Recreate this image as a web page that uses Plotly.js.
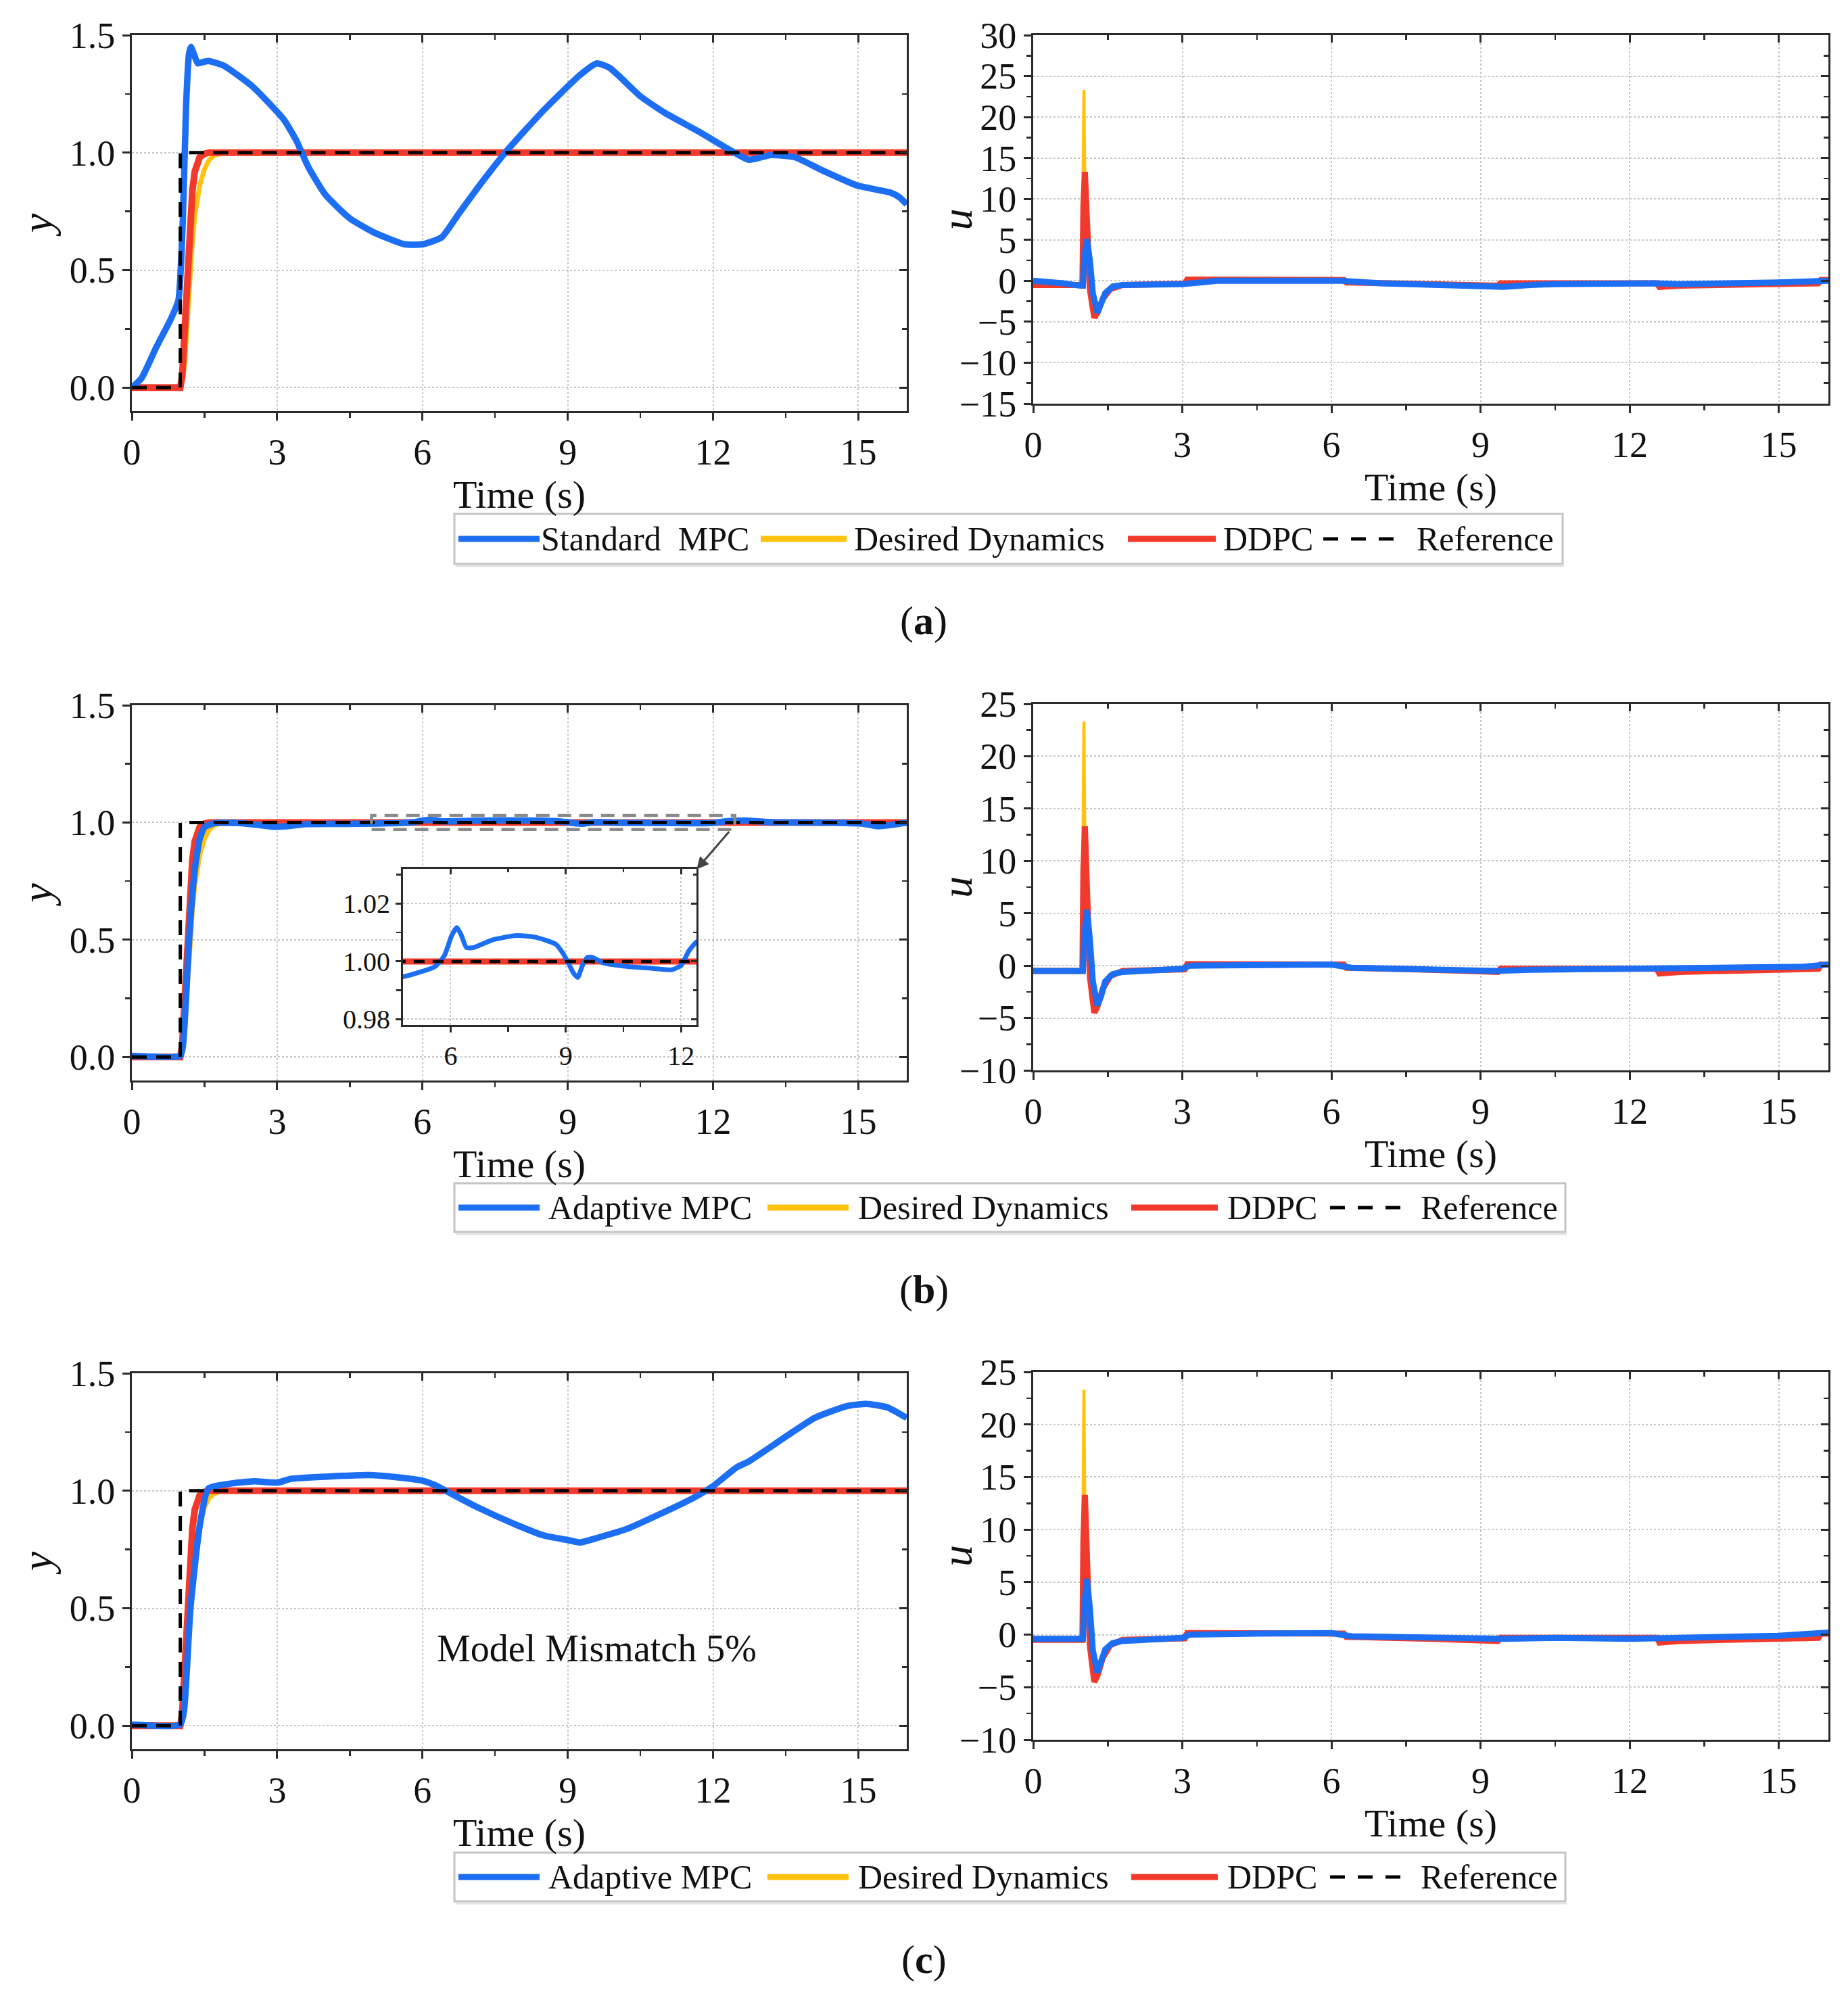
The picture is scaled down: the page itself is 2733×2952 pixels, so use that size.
<!DOCTYPE html>
<html>
<head>
<meta charset="utf-8">
<script src="https://cdn.plot.ly/plotly-3.0.1.min.js"></script>
<style>html,body{margin:0;padding:0;background:#fff;}#chart{width:2733px;height:2952px;}</style>
</head>
<body>
<div id="chart"></div>
<script>
// ---------------- data ----------------
const refT = [0, 1, 1, 16];
const refY = [0, 0, 1, 1];

const desT = [0, 1.0, 1.05, 1.1, 1.15, 1.2, 1.25, 1.3, 1.4, 1.5, 1.6, 1.7, 1.8, 1.9, 16];
const desY = [0, 0, 0.03, 0.12, 0.3, 0.48, 0.62, 0.73, 0.86, 0.93, 0.97, 0.988, 0.996, 1.0, 1.0];

const ddpcT = [0, 1.0, 1.04, 1.08, 1.12, 1.16, 1.2, 1.25, 1.3, 1.35, 1.4, 1.5, 1.6, 16];
const ddpcY = [0, 0, 0.05, 0.2, 0.4, 0.58, 0.72, 0.84, 0.92, 0.96, 0.98, 0.995, 1.0, 1.0];

const mpcT = [0, 0.2, 0.5, 0.8, 0.96, 1.05, 1.12, 1.18, 1.22, 1.28, 1.36, 1.46, 1.58, 1.9, 2.5, 3.14, 3.4, 3.64, 4.0, 4.5, 5.0, 5.63, 6.0, 6.4, 6.75, 7.25, 7.75, 8.5, 9.25, 9.6, 9.87, 10.5, 11.0, 11.7, 12.36, 12.74, 13.2, 13.7, 14.2, 14.98, 15.66, 15.85, 16];
const mpcY = [0, 0.04, 0.17, 0.29, 0.37, 0.7, 1.2, 1.42, 1.45, 1.42, 1.38, 1.385, 1.39, 1.37, 1.28, 1.14, 1.05, 0.94, 0.82, 0.72, 0.66, 0.61, 0.61, 0.64, 0.74, 0.88, 1.01, 1.18, 1.33, 1.38, 1.36, 1.24, 1.17, 1.09, 1.01, 0.97, 0.99, 0.98, 0.93, 0.86, 0.83, 0.81, 0.78];

const adaBT = [0, 1.0, 1.05, 1.1, 1.15, 1.2, 1.3, 1.4, 1.5, 1.7, 2.2, 2.6, 2.9, 3.2, 3.6, 4.2, 4.76, 5.59, 5.84, 6.03, 6.16, 6.28, 6.41, 6.6, 7.1, 7.73, 8.23, 8.73, 8.92, 9.05, 9.2, 9.31, 9.42, 9.55, 9.67, 9.99, 10.62, 11.25, 11.75, 12.0, 12.2, 12.4, 12.7, 13.2, 14.5, 15.1, 15.4, 15.7, 16];
const adaBY = [0.005, 0.005, 0.04, 0.18, 0.38, 0.56, 0.8, 0.93, 0.98, 0.997, 0.998, 0.99, 0.982, 0.984, 0.993, 0.994, 0.9947, 0.9982, 1.0021, 1.009, 1.0117, 1.009, 1.0048, 1.0048, 1.0075, 1.009, 1.0083, 1.006, 1.0029, 0.9998, 0.9959, 0.9945, 0.9982, 1.0013, 1.0015, 0.9994, 0.9982, 0.9976, 0.9971, 0.9986, 1.0036, 1.0067, 1.008, 1.001, 0.999, 0.995, 0.984, 0.99, 1.0];

const adaCT = [0, 1.0, 1.08, 1.21, 1.4, 1.58, 2.02, 2.52, 3.02, 3.27, 4.01, 4.89, 5.5, 6.0, 6.26, 6.57, 7.13, 7.88, 8.5, 9.0, 9.25, 9.62, 10.25, 11.0, 11.6, 12.0, 12.49, 12.74, 13.5, 14.1, 14.76, 15.17, 15.6, 16];
const adaCY = [0.005, 0.005, 0.07, 0.5, 0.85, 1.01, 1.03, 1.04, 1.035, 1.05, 1.06, 1.067, 1.057, 1.043, 1.024, 0.99, 0.93, 0.86, 0.81, 0.79, 0.78, 0.80, 0.84, 0.91, 0.97, 1.02, 1.10, 1.125, 1.23, 1.31, 1.36, 1.37, 1.355, 1.31];

// control input u
const desUT = [0, 0.99, 1.005, 1.02, 1.035, 1.06, 1.1, 1.14, 1.19, 1.23, 1.3, 1.4, 1.55, 1.8, 3.05, 3.1, 6.25, 6.3, 8.0, 9.35, 9.4, 12.55, 12.6, 13.0, 15.8, 15.85, 16];
const desU  = [-0.5, -0.5, 14, 23.3, 14, 7, 2, -1, -3, -4.5, -3.8, -2.2, -1.0, -0.5, -0.35, 0.15, 0.1, -0.2, -0.4, -0.6, -0.3, -0.3, -0.75, -0.6, -0.3, 0.1, 0.1];

const ddpcUT = [0, 0.99, 1.01, 1.04, 1.07, 1.1, 1.14, 1.19, 1.23, 1.3, 1.4, 1.55, 1.8, 3.05, 3.1, 6.25, 6.3, 8.0, 9.35, 9.4, 12.55, 12.6, 13.0, 15.8, 15.85, 16];
const ddpcU  = [-0.5, -0.5, 9, 13.3, 9, 3, -1, -3, -4.5, -3.8, -2.2, -1.0, -0.5, -0.35, 0.15, 0.1, -0.2, -0.4, -0.6, -0.3, -0.3, -0.75, -0.6, -0.3, 0.1, 0.1];

const mpcUT = [0, 0.3, 0.6, 0.95, 1.0, 1.03, 1.08, 1.14, 1.2, 1.29, 1.36, 1.45, 1.6, 1.8, 2.5, 3.0, 3.7, 5.0, 6.2, 7.0, 8.5, 9.47, 10.0, 10.5, 12.5, 13.0, 15.0, 16];
const mpcU  = [0, -0.1, -0.3, -0.6, -0.6, 3.0, 5.1, 2.5, -1.5, -3.9, -3.0, -1.5, -0.7, -0.5, -0.45, -0.4, 0, 0.05, 0, -0.3, -0.5, -0.74, -0.5, -0.4, -0.3, -0.4, -0.2, 0];

const adaBUT = [0, 0.95, 1.0, 1.03, 1.08, 1.14, 1.2, 1.29, 1.36, 1.45, 1.6, 1.8, 3.0, 3.15, 4.5, 6.0, 6.4, 8.5, 9.3, 10.0, 12.5, 14.0, 15.5, 16];
const adaBU  = [-0.5, -0.5, -0.5, 3.0, 5.3, 2.5, -1.5, -3.8, -3.0, -1.5, -0.8, -0.6, -0.3, 0, 0.1, 0.1, -0.2, -0.4, -0.5, -0.4, -0.3, -0.3, -0.1, 0.1];

const adaCUT = [0, 0.95, 1.0, 1.03, 1.08, 1.14, 1.2, 1.29, 1.36, 1.45, 1.6, 1.8, 3.0, 3.15, 4.5, 6.0, 6.4, 8.0, 9.5, 10.5, 12.0, 13.0, 15.0, 16];
const adaCU  = [-0.4, -0.4, -0.4, 3.0, 5.3, 2.5, -1.5, -3.6, -2.8, -1.4, -0.8, -0.6, -0.3, 0, 0.1, 0.15, -0.15, -0.3, -0.4, -0.3, -0.4, -0.3, -0.1, 0.2];

const xTicks = [0, 3, 6, 9, 12, 15];
const xMinor = [1.5, 4.5, 7.5, 10.5, 13.5];
const yTicks = [0, 0.5, 1.0, 1.5];
const yTickText = ['0.0', '0.5', '1.0', '1.5'];
const yMinor = [0.25, 0.75, 1.25];
const insetTicksX = [6, 9, 12];
const insetMinorX = [7.5, 10.5];
const insetTicksY = [0.98, 1.00, 1.02];
const insetTickTextY = ['0.98', '1.00', '1.02'];
const insetMinorY = [0.99, 1.01, 1.03];

const legendNames = {
  a: ['Standard  MPC', 'Desired Dynamics', 'DDPC', 'Reference'],
  b: ['Adaptive MPC', 'Desired Dynamics', 'DDPC', 'Reference'],
  c: ['Adaptive MPC', 'Desired Dynamics', 'DDPC', 'Reference']
};
const captions = ['a', 'b', 'c'];
const annotationText = 'Model Mismatch 5%';

// ---------------- style ----------------
const BLUE = '#1c6ef2', YEL = '#ffc20e', RED = '#f23a2c', BLK = '#000000';
const FONT = 'Liberation Serif, Times New Roman, serif';
const W = 2733, H = 2952;
const fx = p => p / W, fy = p => 1 - p / H;
const AX = '#2b2b2b';

const traces = [];
function addY(xa, ya, blueT, blueY, nm) {
  traces.push({x: desT, y: desY, xaxis: xa, yaxis: ya, mode: 'lines', name: nm[1], line: {color: YEL, width: 7}, showlegend: false});
  traces.push({x: ddpcT, y: ddpcY, xaxis: xa, yaxis: ya, mode: 'lines', name: nm[2], line: {color: RED, width: 10}, showlegend: false});
  traces.push({x: blueT, y: blueY, xaxis: xa, yaxis: ya, mode: 'lines', name: nm[0], line: {color: BLUE, width: 9.5, shape: 'spline', smoothing: 0.5}, showlegend: false});
  traces.push({x: refT, y: refY, xaxis: xa, yaxis: ya, mode: 'lines', name: nm[3], line: {color: BLK, width: 5, dash: '22px,14px'}, showlegend: false});
}
function addU(xa, ya, blueT, blueU, nm) {
  traces.push({x: desUT, y: desU, xaxis: xa, yaxis: ya, mode: 'lines', name: nm[1], line: {color: YEL, width: 4.5}, showlegend: false});
  traces.push({x: ddpcUT, y: ddpcU, xaxis: xa, yaxis: ya, mode: 'lines', name: nm[2], line: {color: RED, width: 9}, showlegend: false});
  traces.push({x: blueT, y: blueU, xaxis: xa, yaxis: ya, mode: 'lines', name: nm[0], line: {color: BLUE, width: 9}, showlegend: false});
}

addY('x', 'y', mpcT, mpcY, legendNames.a);
addU('x2', 'y2', mpcUT, mpcU, legendNames.a);
addY('x3', 'y3', adaBT, adaBY, legendNames.b);
addU('x4', 'y4', adaBUT, adaBU, legendNames.b);
addY('x5', 'y5', adaCT, adaCY, legendNames.c);
addU('x6', 'y6', adaCUT, adaCU, legendNames.c);
// inset (b)
traces.push({x: desT, y: desY, xaxis: 'x7', yaxis: 'y7', mode: 'lines', line: {color: YEL, width: 6}, showlegend: false});
traces.push({x: ddpcT, y: ddpcY, xaxis: 'x7', yaxis: 'y7', mode: 'lines', line: {color: RED, width: 9}, showlegend: false});
traces.push({x: adaBT, y: adaBY, xaxis: 'x7', yaxis: 'y7', mode: 'lines', line: {color: BLUE, width: 7, shape: 'spline', smoothing: 0.5}, showlegend: false});
traces.push({x: refT, y: refY, xaxis: 'x7', yaxis: 'y7', mode: 'lines', line: {color: BLK, width: 4.5, dash: '16px,12px'}, showlegend: false});

const titleFont = {family: FONT, size: 58, color: '#111'};

function baseAxis(range, tickvals, ticktext, minorvals, fontSize) {
  const a = {
    range: range, tickvals: tickvals,
    showline: true, mirror: true, linecolor: AX, linewidth: 3,
    ticks: 'outside', ticklen: 11, tickwidth: 3, tickcolor: AX,
    minor: {tickvals: minorvals, ticks: 'outside', ticklen: 7, tickwidth: 2.5, tickcolor: AX, showgrid: false},
    showgrid: true, gridcolor: '#c6c6c6', gridwidth: 2, griddash: 'dot',
    zeroline: false, tickfont: {family: FONT, size: fontSize, color: '#111'}
  };
  if (ticktext) a.ticktext = ticktext;
  return a;
}
function xax(domain, anchor) {
  return Object.assign(baseAxis([0, 16], xTicks, xTicks.map(String), xMinor, 54), {
    domain: domain, anchor: anchor,
    title: {text: 'Time (s)', font: titleFont, standoff: 6}
  });
}
function yaxY(domain, anchor) {
  return Object.assign(baseAxis([-0.1, 1.5], yTicks, yTickText, yMinor, 54), {
    domain: domain, anchor: anchor,
    title: {text: '<i>y</i>', font: {family: FONT, size: 64, color: '#111'}, standoff: 6}
  });
}
function yaxU(domain, anchor, lo, hi) {
  const vals = [], minors = [];
  for (let v = lo; v <= hi; v += 5) vals.push(v);
  for (let v = lo + 2.5; v < hi; v += 5) minors.push(v);
  return Object.assign(baseAxis([lo, hi], vals, null, minors, 54), {
    domain: domain, anchor: anchor
  });
}
// inner mirrored ticks (top / right), as in the original figure
function mirrorX(of, anchorY, range, tickvals, minorvals, len) {
  return {
    overlaying: of, anchor: anchorY, side: 'top', range: range, tickvals: tickvals, visible: true,
    showticklabels: false, showgrid: false, showline: false, zeroline: false,
    ticks: 'inside', ticklen: len, tickwidth: 3, tickcolor: AX,
    minor: {tickvals: minorvals, ticks: 'inside', ticklen: len * 0.65, tickwidth: 2.5, tickcolor: AX, showgrid: false}
  };
}
function mirrorY(of, anchorX, range, tickvals, minorvals, len) {
  return {
    overlaying: of, anchor: anchorX, side: 'right', range: range, tickvals: tickvals, visible: true,
    showticklabels: false, showgrid: false, showline: false, zeroline: false,
    ticks: 'inside', ticklen: len, tickwidth: 3, tickcolor: AX,
    minor: {tickvals: minorvals, ticks: 'inside', ticklen: len * 0.65, tickwidth: 2.5, tickcolor: AX, showgrid: false}
  };
}

const Lx = [fx(195), fx(1341)], Rx = [fx(1528), fx(2704)];

const layout = {
  width: W, height: H,
  margin: {l: 0, r: 0, t: 0, b: 0},
  paper_bgcolor: '#ffffff', plot_bgcolor: '#ffffff',
  font: {family: FONT, color: '#111'},
  showlegend: false,
  xaxis: xax(Lx, 'y'), yaxis: yaxY([fy(608), fy(52)], 'x'),
  xaxis2: xax(Rx, 'y2'), yaxis2: yaxU([fy(597), fy(52)], 'x2', -15, 30),
  xaxis3: xax(Lx, 'y3'), yaxis3: yaxY([fy(1598), fy(1043)], 'x3'),
  xaxis4: xax(Rx, 'y4'), yaxis4: yaxU([fy(1583), fy(1041)], 'x4', -10, 25),
  xaxis5: xax(Lx, 'y5'), yaxis5: yaxY([fy(2587), fy(2031)], 'x5'),
  xaxis6: xax(Rx, 'y6'), yaxis6: yaxU([fy(2573), fy(2029)], 'x6', -10, 25),
  xaxis7: Object.assign(baseAxis([4.76, 12.4], insetTicksX, insetTicksX.map(String), insetMinorX, 40), {
    domain: [fx(596), fx(1030)], anchor: 'y7', ticklen: 8
  }),
  yaxis7: Object.assign(baseAxis([0.978, 1.032], insetTicksY, insetTickTextY, insetMinorY, 40), {
    domain: [fy(1516), fy(1285)], anchor: 'x7', ticklen: 8
  }),
  shapes: [
    {type: 'rect', xref: 'x7 domain', yref: 'y7 domain', x0: 0, x1: 1, y0: 0, y1: 1, layer: 'below', fillcolor: '#eef7fb', line: {width: 0}},
    {type: 'rect', xref: 'x3', yref: 'y3', x0: 4.95, x1: 12.45, y0: 0.97, y1: 1.03, line: {color: '#8a8a8a', width: 4.5, dash: '20px,12px'}}
  ],
  annotations: [
    {xref: 'x3', yref: 'y3', x: 11.66, y: 0.80, ax: 12.35, ay: 0.965, axref: 'x3', ayref: 'y3', showarrow: true, arrowhead: 2, arrowsize: 1.2, arrowwidth: 3, arrowcolor: '#444', text: ''},
    {xref: 'x5', yref: 'y5', x: 9.6, y: 0.33, text: annotationText, showarrow: false, font: {family: FONT, size: 56, color: '#111'}}
  ]
};

// u axis titles (placed close to the tick labels as in the original)
['y2', 'y4', 'y6'].forEach(ya => {
  layout.annotations.push({xref: 'paper', yref: ya + ' domain', x: fx(1415), y: 0.5, xanchor: 'center', yanchor: 'middle',
    text: '<i>u</i>', textangle: -90, showarrow: false, font: {family: FONT, size: 64, color: '#111'}});
});

// mirrored inner ticks for each subplot
const mainPairs = [
  ['', [0, 16], 'y', [-0.1, 1.5]], ['2', [0, 16], 'u', [-15, 30]], ['3', [0, 16], 'y', [-0.1, 1.5]],
  ['4', [0, 16], 'u', [-10, 25]], ['5', [0, 16], 'y', [-0.1, 1.5]], ['6', [0, 16], 'u', [-10, 25]]
];
let k = 8;
mainPairs.forEach(p => {
  const xs = 'x' + p[0], ys = 'y' + p[0];
  layout['xaxis' + k] = mirrorX(xs, ys, p[1], xTicks, xMinor, 11);
  let yv, ym;
  if (p[2] === 'y') { yv = yTicks; ym = yMinor; }
  else {
    yv = []; ym = [];
    for (let v = p[3][0]; v <= p[3][1]; v += 5) yv.push(v);
    for (let v = p[3][0] + 2.5; v < p[3][1]; v += 5) ym.push(v);
  }
  layout['yaxis' + k] = mirrorY(ys, xs, p[3], yv, ym, 11);
  traces.push({x: [], y: [], xaxis: 'x' + k, yaxis: 'y' + k, mode: 'lines', showlegend: false, hoverinfo: 'skip'});
  k++;
});
layout['xaxis' + k] = mirrorX('x7', 'y7', [4.76, 12.4], insetTicksX, insetMinorX, 8);
layout['yaxis' + k] = mirrorY('y7', 'x7', [0.978, 1.032], insetTicksY, insetMinorY, 8);
traces.push({x: [], y: [], xaxis: 'x' + k, yaxis: 'y' + k, mode: 'lines', showlegend: false, hoverinfo: 'skip'});

// legends (boxes with long line samples and text, as in the original)
const legendColors = [BLUE, YEL, RED, BLK];
const legendDefs = [
  {names: legendNames.a, box: [672, 2311, 760, 834], lines: [[678, 798], [1125, 1252], [1668, 1798], [1957, 2080]], text: [798, 1261, 1807, 2093]},
  {names: legendNames.b, box: [672, 2315, 1750, 1822], lines: [[678, 798], [1135, 1255], [1673, 1801], [1967, 2085]], text: [809, 1267, 1813, 2099]},
  {names: legendNames.c, box: [672, 2315, 2740, 2812], lines: [[678, 798], [1135, 1255], [1673, 1801], [1967, 2085]], text: [809, 1267, 1813, 2099]}
];
legendDefs.forEach(L => {
  const b = L.box, cy = (b[2] + b[3]) / 2;
  layout.shapes.push({type: 'rect', xref: 'paper', yref: 'paper', x0: fx(b[0]), x1: fx(b[1]), y0: fy(b[3]), y1: fy(b[2]), fillcolor: '#ffffff', line: {color: '#c4c4c4', width: 3}});
  layout.shapes.push({type: 'line', xref: 'paper', yref: 'paper', x0: fx(b[0] + 2), x1: fx(b[1] + 2), y0: fy(b[3] + 3), y1: fy(b[3] + 3), line: {color: '#e2e2e2', width: 3}});
  L.names.forEach((nm, i) => {
    const seg = L.lines[i];
    const isRef = i === 3;
    layout.shapes.push({type: 'line', xref: 'paper', yref: 'paper', x0: fx(seg[0]), x1: fx(seg[1]), y0: fy(cy), y1: fy(cy),
      line: {color: legendColors[i], width: isRef ? 5 : 9, dash: isRef ? '22px,19px' : 'solid'}});
    layout.annotations.push({xref: 'paper', yref: 'paper', x: fx(L.text[i]), y: fy(cy), xanchor: 'left', yanchor: 'middle',
      text: nm.replace('  ', '&nbsp;&nbsp;'), showarrow: false, font: {family: FONT, size: 50, color: '#111'}});
  });
});

// captions
[[918, 0], [1907, 1], [2898, 2]].forEach(c => {
  layout.annotations.push({xref: 'paper', yref: 'paper', x: fx(1366), y: fy(c[0]), xanchor: 'center', yanchor: 'middle',
    text: '(<b>' + captions[c[1]] + '</b>)', showarrow: false, font: {family: FONT, size: 60, color: '#111'}});
});

Plotly.newPlot('chart', traces, layout, {staticPlot: true, displayModeBar: false});
</script>
</body>
</html>
